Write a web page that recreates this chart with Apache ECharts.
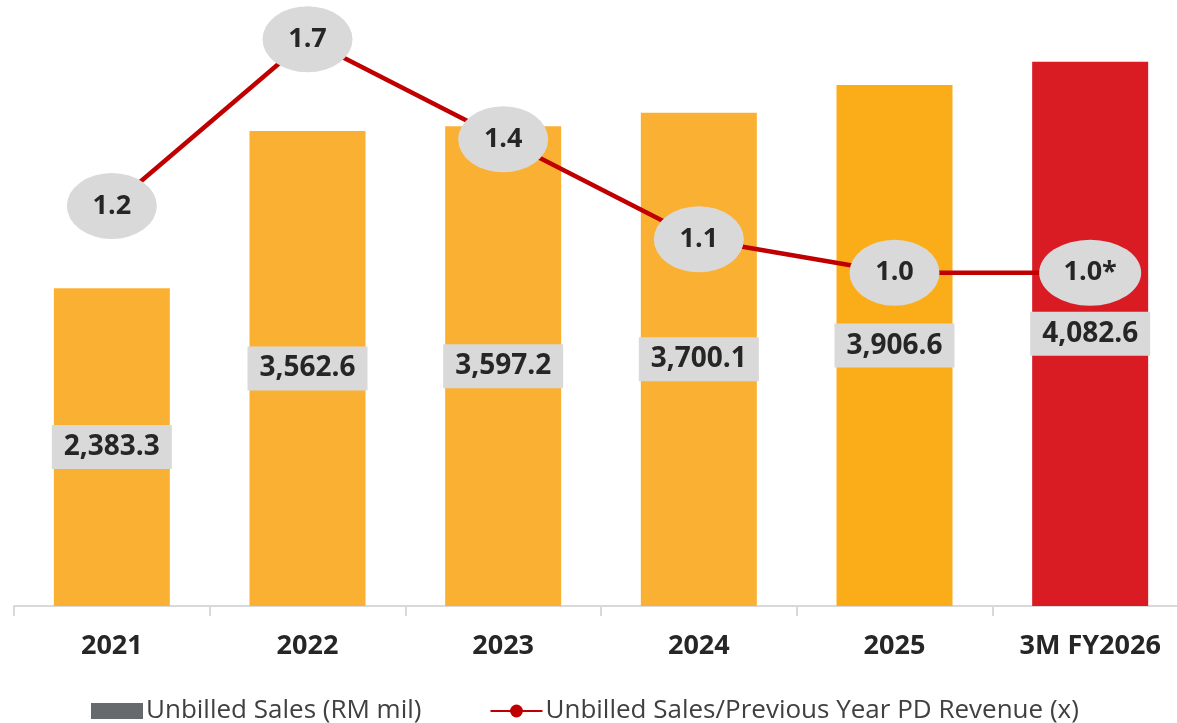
<!DOCTYPE html>
<html>
<head>
<meta charset="utf-8">
<script src="https://cdn.jsdelivr.net/npm/echarts@6/dist/echarts.min.js"></script>
<style>html,body{margin:0;padding:0;background:#fff}#c{width:1177px;height:723px}</style>
</head>
<body>
<div id="c"></div>
<script>
const categories = ['2021', '2022', '2023', '2024', '2025', '3M FY2026'];
const unbilledSales = [2383.3, 3562.6, 3597.2, 3700.1, 3906.6, 4082.6];
const ratio = [1.2, 1.7, 1.4, 1.1, 1.0, 1.0];
const ratioLabels = ['1.2', '1.7', '1.4', '1.1', '1.0', '1.0*'];
const barColors = ['#fab133', '#fab133', '#fab133', '#fab133', '#fbad19', '#d91b24'];

const FONT = 'Open Sans';
const chart = echarts.init(document.getElementById('c'));
chart.setOption({
  animation: false,
  textStyle: { fontFamily: FONT },
  grid: { left: 14, width: 1174, top: 6, height: 600, outerBoundsMode: 'none', containLabel: false },
  legend: {
    left: 86, top: 693, itemGap: 68, itemWidth: 52, itemHeight: 16,
    textStyle: { fontSize: 26, color: '#404040', fontFamily: FONT, padding: [0, 0, 0, -2] },
    data: [
      { name: 'Unbilled Sales (RM mil)', icon: 'rect', itemStyle: { color: '#676a6c' } },
      { name: 'Unbilled Sales/Previous Year PD Revenue (x)' }
    ]
  },
  xAxis: {
    type: 'category', data: categories,
    axisLine: { lineStyle: { color: '#d9d9d9', width: 2 } },
    axisTick: { show: true, length: 10, lineStyle: { color: '#d9d9d9', width: 2 } },
    axisLabel: { fontSize: 27, fontWeight: 'bold', color: '#262626', margin: 27, fontFamily: FONT }
  },
  yAxis: [
    { type: 'value', min: 0, max: 4500, show: false, splitLine: { show: false } },
    { type: 'value', min: 0, max: 1.8, show: false, splitLine: { show: false } }
  ],
  series: [
    {
      name: 'Unbilled Sales (RM mil)', type: 'bar', barWidth: 116,
      data: unbilledSales.map((v, i) => ({ value: v, itemStyle: { color: barColors[i] } })),
      label: {
        show: true, position: 'inside',
        formatter: p => p.value.toLocaleString('en-US', { minimumFractionDigits: 1, maximumFractionDigits: 1 }),
        fontSize: 28, fontWeight: 'bold', color: '#262626', fontFamily: FONT,
        backgroundColor: '#d9d9d9', padding: [9, 12, 7, 12]
      }
    },
    {
      name: 'Unbilled Sales/Previous Year PD Revenue (x)', type: 'line', yAxisIndex: 1,
      data: ratio, symbol: 'circle', symbolSize: 12,
      lineStyle: { color: '#c00000', width: 4.5 }, itemStyle: { color: '#c00000' }, z: 3
    },
    {
      name: 'ratioLabels', type: 'scatter', yAxisIndex: 1, z: 5,
      data: ratio.map((v, i) => ({ value: v, symbolSize: [ratioLabels[i].length > 3 ? 102 : 90, 66] })),
      itemStyle: { color: '#d9d9d9', opacity: 1 },
      label: {
        show: true, position: 'inside',
        formatter: p => ratioLabels[p.dataIndex],
        fontSize: 27, fontWeight: 'bold', color: '#262626', fontFamily: FONT
      }
    }
  ]
});
</script>
</body>
</html>
